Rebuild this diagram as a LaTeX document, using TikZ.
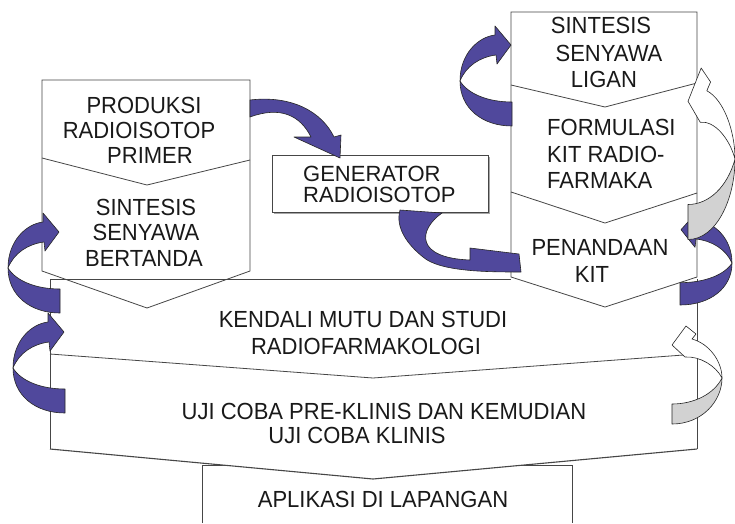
\documentclass[tikz,border=0pt]{standalone}
\usepackage{fontspec}
\usepackage{graphicx}
\setmainfont{Liberation Sans}
\definecolor{arrpurple}{RGB}{80,72,156}
\definecolor{arrgrey}{RGB}{210,210,210}
\definecolor{boxline}{RGB}{70,70,70}
\newcommand\tallt[1]{\scalebox{1}[1.06]{#1}}
\begin{document}
\begin{tikzpicture}[x=1pt,y=-1pt,
  bline/.style={draw=boxline,line width=0.8pt,line join=miter},
  lbl/.style={anchor=base,inner sep=0pt,font=\fontsize{22}{24}\selectfont,text=black!90},
  lblw/.style={anchor=base west,inner sep=0pt,font=\fontsize{22}{24}\selectfont,text=black!90},
  parrow/.style={fill=arrpurple,draw=black!85,line width=0.6pt,line join=round},
  warrow/.style={fill=white,draw=black!85,line width=0.6pt,line join=round},
  garrow/.style={fill=arrgrey,draw=black!85,line width=0.6pt,line join=round},
  curl/.pic={
    \path[parrow] (52,100) .. controls (22,100) and (0,82) .. (0,55)
      .. controls (0,28) and (18,11) .. (35,9) -- (35,0) -- (51,19) -- (37,38) -- (36,29)
      .. controls (20,31) and (6,40) .. (0,55)
      .. controls (8,68) and (28,76) .. (52,76) -- cycle;
  },
  ribbon/.pic={
    \path[garrow] (50,52) .. controls (50,75) and (30,98) .. (0,98) -- (0,78)
      .. controls (22,78) and (42,68) .. (50,52) -- cycle;
    \path[warrow] (13,31) -- (0,19) -- (14,0) -- (24,8) -- (20,13)
      .. controls (38,18) and (50,36) .. (50,52)
      .. controls (44,40) and (28,30) .. (13,31) -- cycle;
  }]
\useasboundingbox[fill=white] (0,0) rectangle (735,523);

% bottom box
\path[bline,fill=white] (202,523) -- (202,465) -- (572,465) -- (572,523);
% kendali + uji
\path[fill=white] (50,279) -- (697,279) -- (697,449) -- (373,479) -- (50,449) -- cycle;
\draw[bline] (50,279) -- (511,279);
\draw[bline] (50,279) -- (50,449);
\draw[bline] (697,279) -- (697,449);
\draw[bline] (50,354) -- (373,378) -- (697,354);
\draw[bline,line width=1.1pt] (50,449) -- (373,479) -- (697,449);

% left column
\draw[bline] (42,80) -- (250,80) -- (250,271) -- (147,308) -- (42,271) -- cycle;
\draw[bline] (42,158) -- (147,185) -- (250,160);

% right column
\draw[bline] (511,12) -- (697,12) -- (697,277) -- (605,307) -- (511,277) -- cycle;
\draw[bline] (511,85) -- (605,107) -- (697,83);
\draw[bline] (511,192) -- (605,223) -- (697,193);

% generator box with light shadow
\fill[black!35] (273.5,156.5) rectangle (489.5,213.5);
\node[bline,fill=white,minimum width=216pt,minimum height=57pt,inner sep=0pt] (gen) at (380,183.5) {};

% texts
\node[lbl] (t1) at (144,113) {\tallt{PRODUKSI}};
\node[lbl] (t2) at (139,138) {\tallt{RADIOISOTOP}};
\node[lbl] (t3) at (150,163) {\tallt{PRIMER}};
\node[lbl] (t4) at (146,215) {\tallt{SINTESIS}};
\node[lbl] (t5) at (146,240) {\tallt{SENYAWA}};
\node[lbl] (t6) at (144,266) {\tallt{BERTANDA}};
\node[lblw] (g1) at (303,181) {GENERATOR};
\node[lblw] (g2) at (303,202) {RADIOISOTOP};
\node[lbl] (r1) at (601,33) {\tallt{SINTESIS}};
\node[lbl] (r2) at (609,61) {\tallt{SENYAWA}};
\node[lbl] (r3) at (604,87) {\tallt{LIGAN}};
\node[lblw] (r4) at (547,135) {\tallt{FORMULASI}};
\node[lblw] (r5) at (547,162) {\tallt{KIT RADIO-}};
\node[lblw] (r6) at (547,188) {\tallt{FARMAKA}};
\node[lbl] (r7) at (600,255) {\tallt{PENANDAAN}};
\node[lbl] (r8) at (592,282) {\tallt{KIT}};
\node[lbl] (k1) at (363,327) {\tallt{KENDALI MUTU DAN STUDI}};
\node[lbl] (k2) at (366,354) {\tallt{RADIOFARMAKOLOGI}};
\node[lbl] (u1) at (384,419) {\tallt{UJI COBA PRE-KLINIS DAN KEMUDIAN}};
\node[lbl] (u2) at (357,443) {\tallt{UJI COBA KLINIS}};
\node[lbl] (a1) at (383,507) {\tallt{APLIKASI DI LAPANGAN}};

% curved arrows
\pic at (8,213) {curl};
\pic at (13,313) {curl};
\pic at (460,26) {curl};
\pic[xscale=-1,yscale=0.93] at (732,212) {curl};
\pic[xscale=0.94,yscale=1.75] at (688,68) {ribbon};
\pic at (672,326) {ribbon};

% produksi -> generator
\path[parrow] (250,100) .. controls (292,95) and (322,112) .. (334,137)
  -- (341,135) -- (340,158) -- (294,137) -- (311,137)
  .. controls (300,115) and (280,106) .. (250,117) -- cycle;
% generator -> penandaan
\path[parrow] (400,210) -- (442,213) .. controls (418,230) and (415,258) .. (470,260)
  -- (470,248) -- (519,254) -- (521,272)
  .. controls (490,272) and (440,272) .. (423,257)
  .. controls (408,245) and (395,228) .. (400,210) -- cycle;
\end{tikzpicture}
\end{document}
